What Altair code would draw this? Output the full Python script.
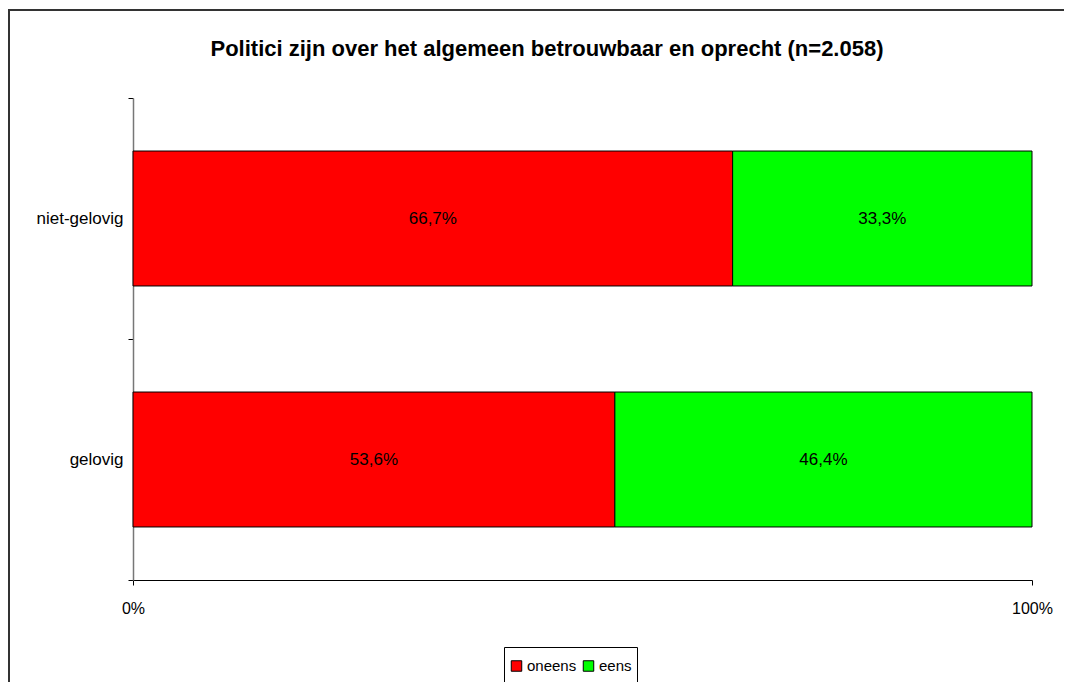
import altair as alt
import pandas as pd

categories = ["niet-gelovig", "gelovig"]
answers = ["oneens", "eens"]
oneens = [66.7, 53.6]
eens = [33.3, 46.4]
colors = ["#ff0000", "#00ff00"]
x_ticks = [0, 100]
title_text = "Politici zijn over het algemeen betrouwbaar en oprecht (n=2.058)"

rows = []
for c, o, e in zip(categories, oneens, eens):
    for i, (a, v) in enumerate(zip(answers, [o, e])):
        rows.append({"cat": c, "answer": a, "order": i, "value": v,
                     "label": f"{v:.1f}".replace(".", ",") + "%"})
df = pd.DataFrame(rows)

FONT = "Liberation Sans"

base = alt.Chart(df).transform_stack(
    stack="value", groupby=["cat"], as_=["x0", "x1"],
    sort=[alt.SortField("order", order="ascending")]
).transform_calculate(mid="(datum.x0 + datum.x1) / 2")

yenc = alt.Y("cat:N", sort=categories, title=None,
             scale=alt.Scale(paddingInner=0, paddingOuter=0),
             axis=alt.Axis(tickBand="extent", labelFontSize=17, labelFont=FONT,
                           labelColor="#000", labelPadding=5, tickSize=5,
                           tickColor="#000", domainColor="#777", domainWidth=1.5))

bars = base.mark_bar(stroke="#000", strokeWidth=1,
                     height=alt.RelativeBandSize(0.56)).encode(
    x=alt.X("x0:Q", title=None,
            scale=alt.Scale(domain=[0, 100], nice=False),
            axis=alt.Axis(values=x_ticks, labelExpr="datum.value + '%'",
                          labelFontSize=16, labelFont=FONT, labelColor="#000",
                          labelFlush=False,
                          labelPadding=15, tickSize=5, tickColor="#000",
                          domainColor="#000", grid=False)),
    x2="x1:Q",
    y=yenc,
    color=alt.Color("answer:N", sort=answers,
                    scale=alt.Scale(domain=answers, range=colors),
                    legend=alt.Legend(title=None, orient="none", legendX=371, legendY=549,
                                      direction="horizontal", symbolType="square",
                                      symbolSize=110, symbolStrokeColor="#000",
                                      symbolStrokeWidth=1, labelFontSize=15,
                                      labelFont=FONT, labelColor="#000",
                                      columnPadding=4, labelOffset=3,
                                      clipHeight=28,
                                      strokeColor="#000", padding=5,
                                      fillColor="#fff")),
)

labels = base.mark_text(fontSize=17, font=FONT, color="#000").encode(
    x="mid:Q",
    y=alt.Y("cat:N", sort=categories),
    text="label:N",
)

title = alt.Chart(pd.DataFrame({"t": [title_text]})).mark_text(
    font=FONT, fontSize=22, fontWeight="bold", color="#000",
    align="center", baseline="alphabetic"
).encode(x=alt.value(414), y=alt.value(-42), text="t:N")

border = alt.Chart(pd.DataFrame({"a": [0]})).mark_rect(
    filled=False, stroke="#333", strokeWidth=2
).encode(x=alt.value(-124), x2=alt.value(1100), y=alt.value(-88), y2=alt.value(700))

chart = alt.layer(border, bars, labels, title).properties(
    width=899, height=482,
    autosize=alt.AutoSizeParams(type="none"),
    padding={"left": 125, "top": 90, "right": 32, "bottom": 102},
).configure_view(stroke=None)

chart.save("out.html", embed_options={"renderer": "svg", "actions": False})
